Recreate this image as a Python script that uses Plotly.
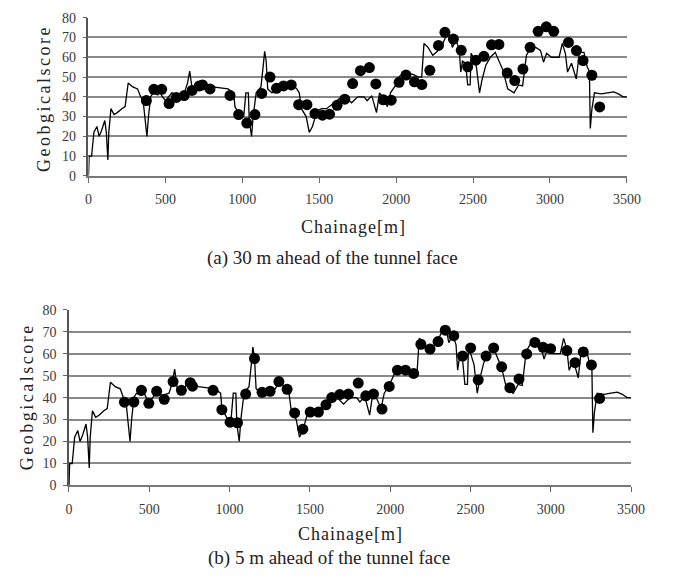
import plotly.graph_objects as go

# Geological profile line (shared by both panels)
line_chainage = [0, 4, 20, 24, 35, 55, 69, 85, 106, 116,
                 126, 132, 146, 166, 187, 217, 238, 258, 288, 319,
                 339, 355, 380, 390, 404, 420, 451, 461, 481, 501,
                 522, 542, 583, 623, 644, 658, 674, 694, 725, 741,
                 765, 806, 907, 944, 952, 989, 1009, 1023, 1039, 1045,
                 1060, 1070, 1090, 1121, 1135, 1145, 1155, 1165, 1192, 1232,
                 1283, 1313, 1354, 1370, 1384, 1415, 1435, 1456, 1486, 1516,
                 1547, 1598, 1629, 1669, 1710, 1750, 1791, 1811, 1842, 1872,
                 1892, 1913, 1943, 1963, 1994, 2024, 2055, 2106, 2146, 2166,
                 2181, 2207, 2238, 2268, 2298, 2329, 2349, 2365, 2390, 2410,
                 2420, 2431, 2451, 2465, 2481, 2487, 2501, 2522, 2542, 2558,
                 2583, 2613, 2644, 2694, 2725, 2766, 2796, 2822, 2847, 2877,
                 2907, 2938, 2958, 2978, 3009, 3059, 3080, 3100, 3114, 3140,
                 3171, 3191, 3221, 3242, 3256, 3262, 3272, 3289, 3333, 3374,
                 3414, 3445, 3475, 3500]
line_score = [0, 10, 10, 14, 22, 25, 20, 23, 28, 22,
              8, 22, 34, 31, 32, 34, 35, 47, 45, 44,
              40, 38, 20, 30, 40, 42, 41, 43, 40, 38,
              40, 42, 41, 42, 47, 53, 44, 44, 45, 48,
              46, 45, 44, 42, 35, 30, 30, 42, 42, 28,
              20, 30, 42, 45, 55, 63, 58, 44, 42, 43,
              44, 47, 44, 42, 34, 30, 22, 25, 33, 34,
              34, 37, 39, 40, 37, 40, 40, 38, 40.5, 32,
              42, 40, 35, 42, 45.5, 50.5, 52, 51.5, 50, 50,
              67, 65, 61, 63, 66, 71.5, 71, 65, 68.5, 64,
              52.5, 58, 57, 46, 46, 62, 60, 55, 42, 48.5,
              56, 60, 62.5, 53.5, 44, 42, 46, 45.5, 61, 65,
              65, 63.5, 57.5, 62, 60, 60, 67, 62, 52.5, 57,
              49, 62.5, 62.5, 55, 53, 24, 33.5, 42, 41.5, 42,
              42.5, 41.5, 40, 40]

# (a) 30 m ahead predictions
pred30_chainage = [376, 425, 476, 524, 571, 622, 673, 720, 741, 790,
                   920, 976, 1029, 1082, 1126, 1180, 1222, 1268, 1318, 1366,
                   1420, 1472, 1521, 1567, 1616, 1666, 1717, 1768, 1826, 1868,
                   1916, 1968, 2019, 2064, 2119, 2167, 2219, 2275, 2317, 2372,
                   2423, 2465, 2518, 2570, 2620, 2668, 2722, 2771, 2824, 2871,
                   2923, 2976, 3024, 3120, 3172, 3215, 3272, 3323]
pred30_score = [38.1, 43.8, 43.8, 36.6, 39.7, 40.6, 43.2, 45.5, 46, 44,
                40.7, 31, 26.7, 31, 41.7, 50, 44.3, 45.5, 46, 36,
                36, 31.5, 30.7, 31.2, 35.7, 38.8, 46.7, 53.2, 54.8, 46.5,
                38.5, 38.3, 47.3, 51, 47.6, 46.2, 53.4, 66, 72.6, 69.2,
                63.5, 55.2, 58.5, 60.5, 66.3, 66.5, 52, 48.2, 54, 65,
                73.1, 75.4, 73.1, 67.5, 63.4, 58.3, 50.9, 34.9]

# (b) 5 m ahead predictions
pred5_chainage = [345, 404, 451, 497, 546, 593, 648, 700, 755, 769,
                  897, 952, 1003, 1049, 1100, 1155, 1202, 1252, 1307, 1358,
                  1405, 1456, 1502, 1553, 1600, 1636, 1686, 1740, 1801, 1848,
                  1896, 1949, 1994, 2045, 2095, 2146, 2191, 2248, 2298, 2343,
                  2396, 2451, 2501, 2548, 2597, 2644, 2694, 2745, 2802, 2850,
                  2901, 2952, 2999, 3100, 3151, 3202, 3253, 3304]
pred5_score = [37.9, 38, 43.3, 37.4, 42.9, 39.2, 47.3, 43.3, 46.8, 45.2,
               43.3, 34.5, 28.8, 28.5, 41.6, 57.8, 42.4, 42.9, 47.3, 43.8,
               33, 25.6, 33.4, 33.4, 36.7, 40, 41.4, 41.6, 46.6, 40.8,
               41.6, 34.8, 45.1, 52.5, 52.5, 51, 64.3, 62.1, 65.5, 70.7,
               68.2, 58.9, 62.6, 48.1, 58.9, 62.6, 54, 44.5, 48.5, 59.9,
               65.1, 62.9, 62.3, 61.4, 55.9, 60.8, 54.9, 39.6]

x_ticks = [0, 500, 1000, 1500, 2000, 2500, 3000, 3500]
y_ticks = [0, 10, 20, 30, 40, 50, 60, 70, 80]

W, H = 676, 587
SERIF = "Liberation Serif"
GRID = "#8a8a8a"
TXT = "#3a3a3a"

def px_x(p):
    return p / W

def px_y(p):
    return 1 - p / H

fig = go.Figure()

for xa, ya, pc, ps in [("x", "y", pred30_chainage, pred30_score),
                       ("x2", "y2", pred5_chainage, pred5_score)]:
    fig.add_trace(go.Scatter(x=line_chainage, y=line_score, mode="lines",
                             line=dict(color="black", width=1.3),
                             xaxis=xa, yaxis=ya, showlegend=False))
    fig.add_trace(go.Scatter(x=pc, y=ps, mode="markers",
                             marker=dict(color="black", size=11),
                             xaxis=xa, yaxis=ya, showlegend=False,
                             cliponaxis=False))

common_x = dict(range=[0, 3500], tickvals=x_ticks, ticks="outside", ticklen=5,
                tickcolor="#666666", tickwidth=1.2, showline=True,
                linecolor="#777777", linewidth=1.5, showgrid=False, zeroline=False,
                tickfont=dict(family=SERIF, size=14, color=TXT),
                ticklabelstandoff=5, fixedrange=True)
common_y = dict(range=[0, 80], tickvals=y_ticks, ticks="outside", ticklen=4,
                tickcolor="#666666", tickwidth=1.2, showline=True,
                linecolor="#555555", linewidth=1.5, showgrid=True,
                gridcolor=GRID, gridwidth=1.7, zeroline=False,
                tickfont=dict(family=SERIF, size=14, color=TXT),
                ticklabelstandoff=4, fixedrange=True)

fig.update_layout(
    width=W, height=H, margin=dict(l=0, r=0, t=0, b=0),
    paper_bgcolor="white", plot_bgcolor="white",
    xaxis=dict(domain=[px_x(87.7), px_x(640)], anchor="y", **common_x),
    yaxis=dict(domain=[px_y(173.3), px_y(11)], anchor="x", **common_y),
    xaxis2=dict(domain=[px_x(67.7), px_x(644.3)], anchor="y2", **common_x),
    yaxis2=dict(domain=[px_y(491), px_y(310.7)], anchor="x2", **common_y),
)

YT = '<span style="letter-spacing:2.5px">Geobgicalscore</span>'
XT = '<span style="letter-spacing:1px">Chainage[m]</span>'
ann = [
    (YT, 42, 93.5, 18, -90),
    (YT, 24, 400, 18, -90),
    (XT, 360, 226, 18, 0),
    (XT, 356, 541, 18, 0),
    ("(a) 30 m ahead of the tunnel face", 338, 258, 19, 0),
    ("(b) 5 m ahead of the tunnel face", 334, 565, 19, 0),
]
for text, x, y, size, ang in ann:
    fig.add_annotation(text=text, xref="paper", yref="paper",
                       x=px_x(x), y=px_y(y), xanchor="center", yanchor="middle",
                       showarrow=False, textangle=ang,
                       font=dict(family=SERIF, size=size, color="#222222"))

fig.write_html("out.html")
